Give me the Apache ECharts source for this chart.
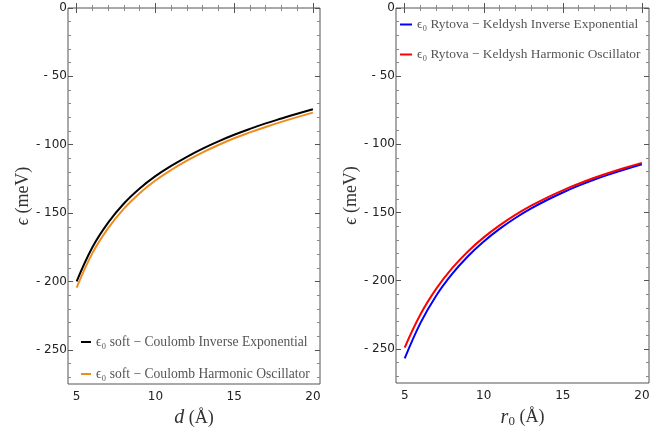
<!DOCTYPE html>
<html>
<head>
<meta charset="utf-8">
<script src="https://cdn.jsdelivr.net/npm/echarts@6/dist/echarts.min.js"></script>
<style>
  html, body { margin: 0; padding: 0; background: #fff; }
  #chart { width: 665px; height: 433px; }
</style>
</head>
<body>
<div id="chart"></div>
<script>
// distance grid (Å), same for both panels
const dVals = [5, 6, 7, 8, 9, 10, 11, 12, 13, 14, 15, 16, 17, 18, 19, 20];
// left panel: soft-Coulomb
const softInvExp = [-200, -175, -157, -143, -132, -123, -115.5, -108.8, -102.8, -97.5, -92.7, -88.4, -84.4, -80.8, -77.3, -74];
const softHarmOsc = [-204.5, -179.3, -161, -146.7, -135.4, -126.2, -118.5, -111.7, -105.6, -100.2, -95.3, -91, -87, -83.3, -79.8, -76.5];
// right panel: Rytova-Keldysh
const rkInvExp = [-257, -230.9, -210.8, -195, -182, -171.2, -162, -154, -147, -140.8, -135.3, -130.3, -125.8, -121.8, -118.1, -114.6];
const rkHarmOsc = [-249, -224.6, -205.8, -190.8, -178.5, -168.2, -159.4, -151.7, -145, -139, -133.7, -128.9, -124.5, -120.6, -117, -113.6];
// ticks
const xMajor = [5, 10, 15, 20];
const xMinor = [6, 7, 8, 9, 11, 12, 13, 14, 16, 17, 18, 19];
const yMajor = [0, -50, -100, -150, -200, -250];
const yMajorLabels = ['0', '- 50', '- 100', '- 150', '- 200', '- 250'];
const yMinor = [-10, -20, -30, -40, -60, -70, -80, -90, -110, -120, -130, -140,
  -160, -170, -180, -190, -210, -220, -230, -240, -260, -270];

const names = [
  'ϵ₀ soft − Coulomb Inverse Exponential',
  'ϵ₀ soft − Coulomb Harmonic Oscillator',
  'ϵ₀ Rytova − Keldysh Inverse Exponential',
  'ϵ₀ Rytova − Keldysh Harmonic Oscillator'
];

const tickFont = { fontFamily: 'DejaVu Sans', fontSize: 12, color: '#222' };
const titleFont = { fontFamily: 'Liberation Serif', fontSize: 18, color: '#333' };
const X_MIN = 4.45, X_MAX = 20.45, Y_MIN = -275, Y_MAX = 0;

// one grid gets 4 x axes (bottom/top, major/minor) and 4 y axes (left/right, major/minor)
function xAxesFor(grid, title) {
  const base = { type: 'value', gridIndex: grid, min: X_MIN, max: X_MAX,
    axisLine: { show: false }, splitLine: { show: false } };
  const major = (pos, labels) => Object.assign({}, base, {
    position: pos,
    axisTick: { inside: true, length: 5, customValues: xMajor, lineStyle: { color: '#555' } },
    axisLabel: { show: labels, customValues: xMajor, margin: 7, ...tickFont }
  });
  const minor = (pos) => Object.assign({}, base, {
    position: pos,
    axisTick: { inside: true, length: 3, customValues: xMinor, lineStyle: { color: '#888' } },
    axisLabel: { show: false }
  });
  const bottom = major('bottom', true);
  bottom.name = title;
  bottom.nameLocation = 'middle';
  bottom.nameGap = 24;
  bottom.nameTextStyle = Object.assign({}, titleFont, {
    rich: { i: { fontFamily: 'Liberation Serif', fontStyle: 'italic', fontSize: 20, color: '#333' },
            s: { fontFamily: 'Liberation Serif', fontSize: 13, color: '#333', padding: [8, 0, 0, 0] } }
  });
  return [bottom, minor('bottom'), major('top', false), minor('top')];
}

function yAxesFor(grid) {
  const base = { type: 'value', gridIndex: grid, min: Y_MIN, max: Y_MAX,
    axisLine: { show: false }, splitLine: { show: false } };
  const major = (pos, labels) => Object.assign({}, base, {
    position: pos,
    axisTick: { inside: true, length: 5, customValues: yMajor, lineStyle: { color: '#555' } },
    axisLabel: { show: labels, customValues: yMajor, margin: 1, ...tickFont,
      formatter: (v) => yMajorLabels[yMajor.indexOf(v)] }
  });
  const minor = (pos) => Object.assign({}, base, {
    position: pos,
    axisTick: { inside: true, length: 3, customValues: yMinor, lineStyle: { color: '#888' } },
    axisLabel: { show: false }
  });
  const left = major('left', true);
  left.name = '{i|ϵ} (meV)';
  left.nameLocation = 'middle';
  left.nameGap = 35;
  left.nameTextStyle = Object.assign({}, titleFont, {
    fontSize: 18,
    rich: { i: { fontFamily: 'Liberation Serif', fontStyle: 'italic', fontSize: 18, color: '#333' } }
  });
  return [left, minor('left'), major('right', false), minor('right')];
}

function pairs(vals) {
  return dVals.map((d, i) => [d, vals[i]]);
}

function lineSeries(name, vals, color, panel) {
  return {
    name: name, type: 'line', data: pairs(vals),
    xAxisIndex: panel * 4, yAxisIndex: panel * 4,
    smooth: 0.4, showSymbol: false, silent: true,
    lineStyle: { color: color, width: 2 }, itemStyle: { color: color }
  };
}

const legendLeft = { fontFamily: 'Liberation Serif', fontSize: 13.6, color: '#555' };
const legendRight = { fontFamily: 'Liberation Serif', fontSize: 13.4, color: '#555' };

const chart = echarts.init(document.getElementById('chart'));
chart.setOption({
  animation: false,
  grid: [
    { left: 68, top: 8, width: 252, height: 380, show: true, borderColor: '#555', borderWidth: 1 },
    { left: 396, top: 8, width: 253, height: 377, show: true, borderColor: '#555', borderWidth: 1 }
  ],
  xAxis: [].concat(xAxesFor(0, '{i|d} (Å)'), xAxesFor(1, '{i|r}{s|0} (Å)')),
  yAxis: [].concat(yAxesFor(0), yAxesFor(1)),
  legend: [
    { data: [names[0], names[1]], left: 81, top: 335, padding: 0, orient: 'vertical', itemGap: 18,
      icon: 'rect', itemWidth: 10, itemHeight: 2, textStyle: legendLeft, selectedMode: false },
    { data: [names[2], names[3]], left: 400, top: 18, padding: 0, orient: 'vertical', itemGap: 17,
      icon: 'rect', itemWidth: 12, itemHeight: 2, textStyle: legendRight, selectedMode: false }
  ],
  series: [
    lineSeries(names[0], softInvExp, '#000000', 0),
    lineSeries(names[1], softHarmOsc, '#f08c1e', 0),
    lineSeries(names[2], rkInvExp, '#0000ff', 1),
    lineSeries(names[3], rkHarmOsc, '#ff0000', 1)
  ]
});
</script>
</body>
</html>
